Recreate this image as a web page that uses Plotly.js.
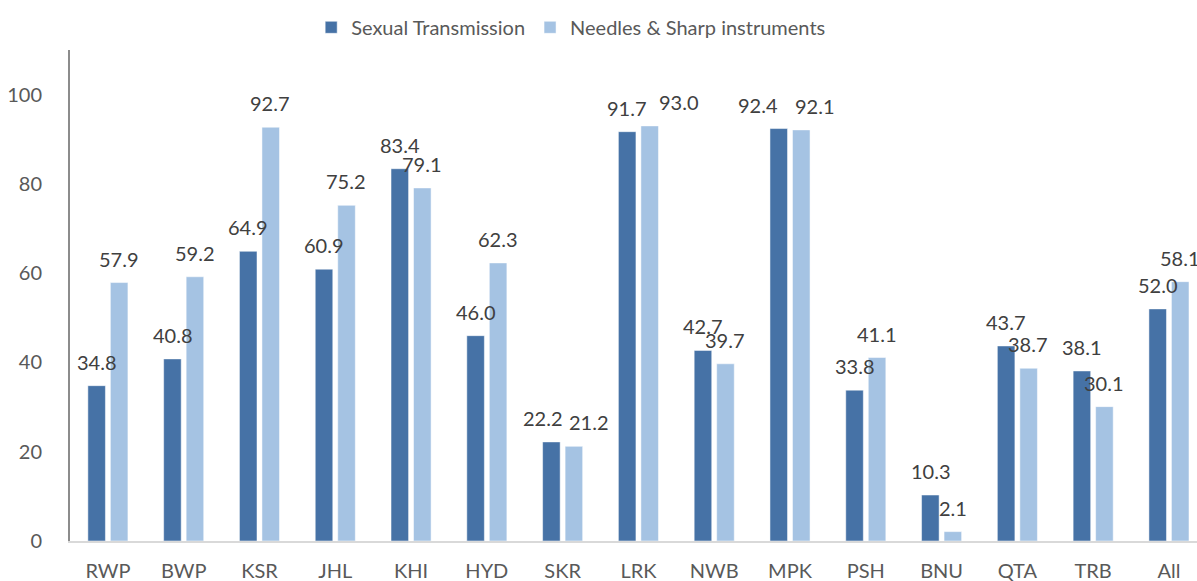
<!DOCTYPE html>
<html>
<head>
<meta charset="utf-8">
<script src="https://cdn.plot.ly/plotly-3.0.1.min.js"></script>
<style>html,body{margin:0;padding:0;background:#fff;}#chart{width:1197px;height:581px;}</style>
</head>
<body>
<div id="chart"></div>
<script>
const categories = ["RWP","BWP","KSR","JHL","KHI","HYD","SKR","LRK","NWB","MPK","PSH","BNU","QTA","TRB","All"];
const sexualTransmission = [34.8,40.8,64.9,60.9,83.4,46.0,22.2,91.7,42.7,92.4,33.8,10.3,43.7,38.1,52.0];
const needlesSharp = [57.9,59.2,92.7,75.2,79.1,62.3,21.2,93.0,39.7,92.1,41.1,2.1,38.7,30.1,58.1];
const seriesNames = ["Sexual Transmission","Needles & Sharp instruments"];

const FONT = "Lato, 'Open Sans', sans-serif";
const DARK = "#4672A6";
const LIGHT = "#A5C3E3";

// horizontal nudges (px) of a few data labels, as placed in the original
const labelNudge = {SKR:[-9,15], LRK:[0,30], MPK:[-21,14]};

const traces = [
  {type:"bar", name:seriesNames[0], x:categories, y:sexualTransmission,
   marker:{color:DARK, line:{color:"#ffffff", width:0.5}}, hoverinfo:"y"},
  {type:"bar", name:seriesNames[1], x:categories, y:needlesSharp,
   marker:{color:LIGHT, line:{color:"#ffffff", width:0.5}}, hoverinfo:"y"}
];

const annotations = [];
[sexualTransmission, needlesSharp].forEach((vals, s) => {
  vals.forEach((v, i) => {
    const nudge = labelNudge[categories[i]] ? labelNudge[categories[i]][s] : 0;
    annotations.push({
      x: categories[i], y: v, xref:"x", yref:"y",
      text: v.toFixed(1), showarrow:false,
      xanchor:"center", yanchor:"bottom",
      xshift: (s === 0 ? -11 : 11) + nudge, yshift: 10,
      font:{family:FONT, size:20, color:"#404040"}
    });
  });
});

const layout = {
  width:1197, height:581,
  margin:{l:70, r:0, t:50, b:40},
  paper_bgcolor:"#ffffff", plot_bgcolor:"#ffffff",
  barmode:"group", bargap:0.406, bargroupgap:0.22,
  showlegend:true,
  legend:{orientation:"h", x:0.214, xanchor:"left", y:0.953, yref:"container", yanchor:"middle",
          font:{family:FONT, size:20, color:"#595959"}, traceorder:"normal",
          bgcolor:"rgba(0,0,0,0)"},
  xaxis:{type:"category", range:[-0.5,14.37], showgrid:false, zeroline:false,
         showline:true, linecolor:"#d9d9d9", linewidth:2, ticks:"",
         ticklabelstandoff:11,
         tickfont:{family:FONT, size:20, color:"#595959"}, fixedrange:true},
  yaxis:{range:[0,110], tickvals:[0,20,40,60,80,100], showgrid:false, zeroline:false,
         showline:true, linecolor:"#8c8c8c", linewidth:2, ticks:"",
         ticklabelstandoff:22,
         tickfont:{family:FONT, size:20, color:"#595959"}, fixedrange:true},
  annotations: annotations,
  font:{family:FONT}
};

Plotly.newPlot("chart", traces, layout, {displayModeBar:false, staticPlot:true});
</script>
</body>
</html>
